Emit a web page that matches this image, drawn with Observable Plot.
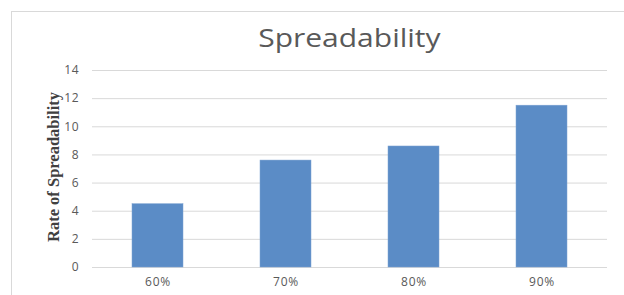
<!DOCTYPE html>
<html>
<head>
<meta charset="utf-8">
<script src="https://cdn.jsdelivr.net/npm/d3@7"></script>
<script src="https://cdn.jsdelivr.net/npm/@observablehq/plot@0.6"></script>
<style>
  html, body { margin: 0; padding: 0; background: #fff; }
  #wrap { position: relative; width: 624px; height: 295px; overflow: hidden; }
  #frame { position: absolute; left: 11px; top: 11px; width: 700px; height: 400px;
           border-left: 1px solid #d9d9d9; border-top: 1px solid #d9d9d9; box-sizing: border-box; }
  #title { position: absolute; left: 92px; width: 515px; top: 21px; text-align: center;
           font-family: "Open Sans", sans-serif; font-size: 25px;
           color: #595959; line-height: 32px; transform: scaleX(1.2); transform-origin: 258px 0; }
  #chart { position: absolute; left: 0; top: 0; }
  g[aria-label="y-axis tick label"] text, g[aria-label="x-axis tick label"] text { letter-spacing: 0.8px; }
</style>
</head>
<body>
<div id="wrap">
  <div id="frame"></div>
  <div id="chart"></div>
  <div id="title">Spreadability</div>
</div>
<script>
const categories = ["60%", "70%", "80%", "90%"];
const values = [4.5, 7.6, 8.6, 11.5];
const yTicks = [0, 2, 4, 6, 8, 10, 12, 14];
const yLabel = "Rate of Spreadability";

const data = categories.map((c, i) => ({category: c, value: values[i]}));

const chart = Plot.plot({
  width: 624,
  height: 295,
  marginTop: 70,
  marginBottom: 28,
  marginLeft: 92,
  marginRight: 17,
  style: {fontFamily: "'Open Sans', sans-serif", fontSize: "12px", color: "#595959", background: "transparent"},
  x: {domain: categories, paddingInner: 0.6, paddingOuter: 0.3, label: null},
  y: {domain: [0, 14], label: null},
  marks: [
    Plot.ruleY(yTicks, {stroke: "#d9d9d9", strokeWidth: 1}),
    Plot.barY(data, {x: "category", y: "value", fill: "#5b8cc6", stroke: "#7ea3d2", strokeWidth: 0.5}),
    Plot.axisY(yTicks, {tickSize: 0, tickPadding: 13, fill: "#595959", label: null}),
    Plot.axisX({tickSize: 0, tickPadding: 10, fill: "#595959", label: null}),
    Plot.text([yLabel], {
      frameAnchor: "left", textAnchor: "middle", dx: -39, dy: -2, rotate: -90, text: d => d,
      fontFamily: "'Liberation Serif', 'Times New Roman', serif", fontWeight: "bold",
      fontSize: 16.5, fill: "#404040"
    })
  ]
});
document.getElementById("chart").appendChild(chart);
</script>
</body>
</html>
